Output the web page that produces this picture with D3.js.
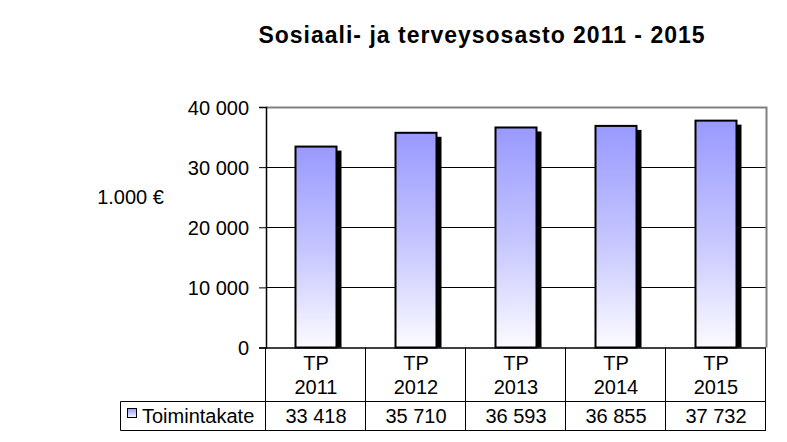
<!DOCTYPE html>
<html><head><meta charset="utf-8">
<script src="https://cdn.jsdelivr.net/npm/d3@7"></script>
<style>body{margin:0;background:#fff}svg{display:block;font-family:"Liberation Sans",Arial,sans-serif}</style>
</head><body><svg id="c" width="787" height="442"></svg>
<script>
const categories = ["TP 2011","TP 2012","TP 2013","TP 2014","TP 2015"];
const values = [33418, 35710, 36593, 36855, 37732];
const valueLabels = ["33 418","35 710","36 593","36 855","37 732"];
const yTicks = [0, 10000, 20000, 30000, 40000];
const seriesName = "Toimintakate";
const title = "Sosiaali- ja terveysosasto 2011 - 2015";
const yTitle = "1.000 €";

const FS = 20;
const svg = d3.select("#c");
const L = 266, R = 766, T = 107, B = 347.5;
const x = d3.scaleBand().domain(categories).range([L, R]).paddingInner(0).paddingOuter(0);
const y = d3.scaleLinear().domain([0, 40000]).range([B, T]);

const defs = svg.append("defs");
const g = defs.append("linearGradient").attr("id","bg").attr("x1",0).attr("y1",0).attr("x2",0).attr("y2",1);
g.append("stop").attr("offset","0%").attr("stop-color","#9999FF");
g.append("stop").attr("offset","50%").attr("stop-color","#C4C4FF");
g.append("stop").attr("offset","100%").attr("stop-color","#FBFBFF");

svg.append("text").attr("x",482).attr("y",43).attr("text-anchor","middle")
  .attr("font-size",23).attr("letter-spacing",1).attr("font-weight","bold").text(title);

// gridlines
svg.selectAll(".grid").data(yTicks.filter(d=>d>0 && d<40000)).join("line")
  .attr("x1",L).attr("x2",R).attr("y1",d=>Math.round(y(d))+0.5).attr("y2",d=>Math.round(y(d))+0.5)
  .attr("stroke","#000").attr("stroke-width",1);
// plot border top/right gray
svg.append("path").attr("d",`M${L},${T+0.5}H${R+0.5}V${B}`).attr("fill","none").attr("stroke","#808080").attr("stroke-width",2);

// y axis
const ax = svg.append("g").attr("transform",`translate(${L},0)`)
  .call(d3.axisLeft(y).tickValues(yTicks).tickSize(7).tickPadding(10)
  .tickFormat(d=>d3.format(",")(d).replace(/,/g," ")));
ax.select(".domain").attr("stroke","#000").attr("stroke-width",1.5);
ax.selectAll(".tick line").attr("stroke","#000");
ax.selectAll("text").attr("font-size",FS).attr("font-family","Liberation Sans, Arial, sans-serif").attr("fill","#000").attr("dy","0.36em");

svg.append("text").attr("x",130.5).attr("y",204).attr("text-anchor","middle").attr("font-size",FS).text(yTitle);

const bw = 41;
const bars = svg.append("g");
// shadows
bars.selectAll(".sh").data(values).join("rect")
  .attr("x",(d,i)=>x.bandwidth()/2 + x(categories[i]) - bw/2 + bw)
  .attr("y",d=>y(d)+4).attr("width",5).attr("height",d=>B-y(d)-4).attr("fill","#000");
bars.selectAll(".b").data(values).join("rect")
  .attr("x",(d,i)=>x(categories[i]) + x.bandwidth()/2 - bw/2)
  .attr("y",d=>y(d)).attr("width",bw).attr("height",d=>B-y(d))
  .attr("fill","url(#bg)").attr("stroke","#000").attr("stroke-width",2);

// x axis line
svg.append("line").attr("x1",L).attr("x2",R).attr("y1",B+0.5).attr("y2",B+0.5).attr("stroke","#000").attr("stroke-width",1.5);

// table
const rowTop = B, rowMid = 401.5, rowBot = 430.5, legL = 120.5;
const tbl = svg.append("g").attr("stroke","#000").attr("stroke-width",1).attr("fill","none");
tbl.append("line").attr("x1",legL).attr("x2",R).attr("y1",rowMid).attr("y2",rowMid);
tbl.append("line").attr("x1",legL).attr("x2",R).attr("y1",rowBot).attr("y2",rowBot);
tbl.append("line").attr("x1",legL).attr("x2",legL).attr("y1",rowMid).attr("y2",rowBot);
const bounds = categories.map(c=>x(c)).concat([R]);
tbl.selectAll(".v").data(bounds).join("line")
  .attr("x1",d=>Math.round(d)-0.5).attr("x2",d=>Math.round(d)-0.5).attr("y1",rowTop).attr("y2",rowBot);

categories.forEach((c,i)=>{
  const cx = x(c)+x.bandwidth()/2;
  const parts = c.split(" ");
  svg.append("text").attr("x",cx).attr("y",370).attr("text-anchor","middle").attr("font-size",FS).text(parts[0]);
  svg.append("text").attr("x",cx).attr("y",394).attr("text-anchor","middle").attr("font-size",FS).text(parts[1]);
  svg.append("text").attr("x",cx).attr("y",422.5).attr("text-anchor","middle").attr("font-size",FS).text(valueLabels[i]);
});
svg.append("rect").attr("x",127.5).attr("y",408.5).attr("width",9).attr("height",9).attr("fill","url(#bg)").attr("stroke","#000").attr("stroke-width",1);
svg.append("text").attr("x",142).attr("y",422.5).attr("font-size",FS).text(seriesName);
</script></body></html>
